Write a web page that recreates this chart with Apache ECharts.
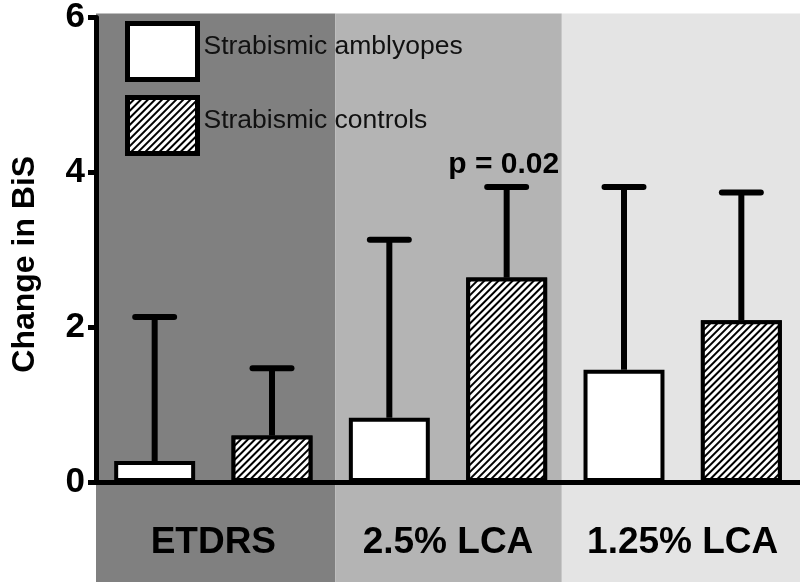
<!DOCTYPE html>
<html><head><meta charset="utf-8">
<script src="https://cdn.jsdelivr.net/npm/echarts@6/dist/echarts.min.js"></script>
<style>html,body{margin:0;padding:0;background:#fff}#c{width:800px;height:582px}</style>
</head><body><div id="c"></div>
<script>
// ---- data ----
const groups = ['ETDRS', '2.5% LCA', '1.25% LCA'];
const slots = ['ETDRS amblyopes', 'ETDRS controls', '2.5% LCA amblyopes', '2.5% LCA controls', '1.25% LCA amblyopes', '1.25% LCA controls'];
const amblyopes = [0.27, null, 0.83, null, 1.45, null];
const controls = [null, 0.60, null, 2.64, null, 2.09];
const means = [0.27, 0.60, 0.83, 2.64, 1.45, 2.09];
const upper = [2.13, 1.47, 3.13, 3.81, 3.81, 3.74];
const notes = ['', '', '', 'p = 0.02', '', ''];
const bandEdges = [0, 2.04, 3.97, 6];
const yTicks = [0, 2, 4, 6];

const FONT = '"Liberation Sans", Arial, Helvetica, sans-serif';
const bandColors = ['#808080', '#b4b4b4', '#e4e4e4'];
const hatch = { color: '#000', backgroundColor: '#fff', dashArrayX: [1, 0], dashArrayY: [2, 3], rotation: -Math.PI / 4 };

const chart = echarts.init(document.getElementById('c'), null, { renderer: 'canvas' });
const bandData = groups.map((g, i) => [bandEdges[i], bandEdges[i + 1], i]);
const errData = slots.map((s, i) => [i, means[i], upper[i]]);

chart.setOption({
  animation: false,
  backgroundColor: '#fff',
  textStyle: { fontFamily: FONT },
  grid: { left: 96, right: 0, top: 13, bottom: 100, containLabel: false },
  legend: {
    orient: 'vertical', left: 125, top: 21, padding: 0,
    itemWidth: 70, itemHeight: 56, itemGap: 13, icon: 'rect',
    itemStyle: { borderWidth: 5, borderColor: '#000' },
    formatter: '{t|{name}}',
    textStyle: {
      fontSize: 26.5, color: '#111', fontFamily: FONT,
      rich: { t: { fontSize: 26.5, color: '#111', fontFamily: FONT, padding: [0, 0, 9, 1] } }
    },
    data: ['Strabismic amblyopes', 'Strabismic controls']
  },
  xAxis: [
    {
      type: 'category', data: slots, position: 'bottom', z: 10,
      axisLine: { lineStyle: { color: '#000', width: 5 } },
      axisTick: { alignWithLabel: true, interval: 0, length: 9, lineStyle: { color: '#000', width: 5 } },
      axisLabel: { show: false, interval: 0 },
      splitLine: { show: false }
    },
    {
      type: 'category', data: groups, position: 'bottom', z: 10,
      axisLine: { show: false }, axisTick: { show: false }, splitLine: { show: false },
      axisLabel: { interval: 0, margin: 42, fontSize: 37, fontWeight: 'bold', color: '#000', fontFamily: FONT }
    },
    { type: 'value', min: 0, max: 6, show: false, position: 'top' }
  ],
  yAxis: {
    type: 'value', min: yTicks[0], max: yTicks[yTicks.length - 1], interval: 2, z: 10,
    name: 'Change in BiS', nameLocation: 'middle', nameGap: 55,
    nameTextStyle: { fontSize: 32, fontWeight: 'bold', color: '#000', fontFamily: FONT, padding: [0, 29, 0, 0] },
    axisLine: { show: true, lineStyle: { color: '#000', width: 5 } },
    axisTick: { show: true, length: 8, lineStyle: { color: '#000', width: 5 } },
    axisLabel: { fontSize: 35, fontWeight: 'bold', color: '#000', margin: 11, fontFamily: FONT },
    splitLine: { show: false }
  },
  series: [
    {
      type: 'custom', name: 'bands', xAxisIndex: 2, yAxisIndex: 0, z: -5, clip: false, silent: true,
      data: bandData,
      renderItem(params, api) {
        const p0 = api.coord([api.value(0), 6]);
        const p1 = api.coord([api.value(1), 0]);
        const top = p0[1] - 4;
        return { type: 'rect', shape: { x: p0[0], y: top, width: p1[0] - p0[0], height: api.getHeight() - top },
          style: { fill: bandColors[api.value(2)] } };
      }
    },
    {
      type: 'bar', name: 'Strabismic amblyopes', xAxisIndex: 0, data: amblyopes,
      barWidth: '69%', barGap: '-100%', z: 3,
      itemStyle: { color: '#fff', borderColor: '#000', borderWidth: 4 }
    },
    {
      type: 'bar', name: 'Strabismic controls', xAxisIndex: 0, data: controls,
      barWidth: '69%', barGap: '-100%', z: 3,
      itemStyle: { color: '#fff', borderColor: '#000', borderWidth: 4, decal: hatch }
    },
    {
      type: 'custom', name: 'error', xAxisIndex: 0, yAxisIndex: 0, z: 4, clip: false, silent: true,
      data: errData,
      renderItem(params, api) {
        const i = api.value(0);
        const base = api.coord([i, api.value(1)]);
        const top = api.coord([i, api.value(2)]);
        const half = api.size([1, 0])[0] * 0.166;
        const children = [
          { type: 'line', shape: { x1: base[0], y1: base[1], x2: top[0], y2: top[1] }, style: { stroke: '#000', lineWidth: 6 } },
          { type: 'line', shape: { x1: top[0] - half, y1: top[1], x2: top[0] + half, y2: top[1] }, style: { stroke: '#000', lineWidth: 6, lineCap: 'round' } }
        ];
        const note = notes[params.dataIndex];
        if (note) {
          children.push({ type: 'text', x: top[0] - 3, y: top[1] - 7,
            style: { text: note, font: 'bold 30px ' + FONT, fill: '#000', align: 'center', verticalAlign: 'bottom' } });
        }
        return { type: 'group', children };
      }
    }
  ]
});
</script>
</body></html>
